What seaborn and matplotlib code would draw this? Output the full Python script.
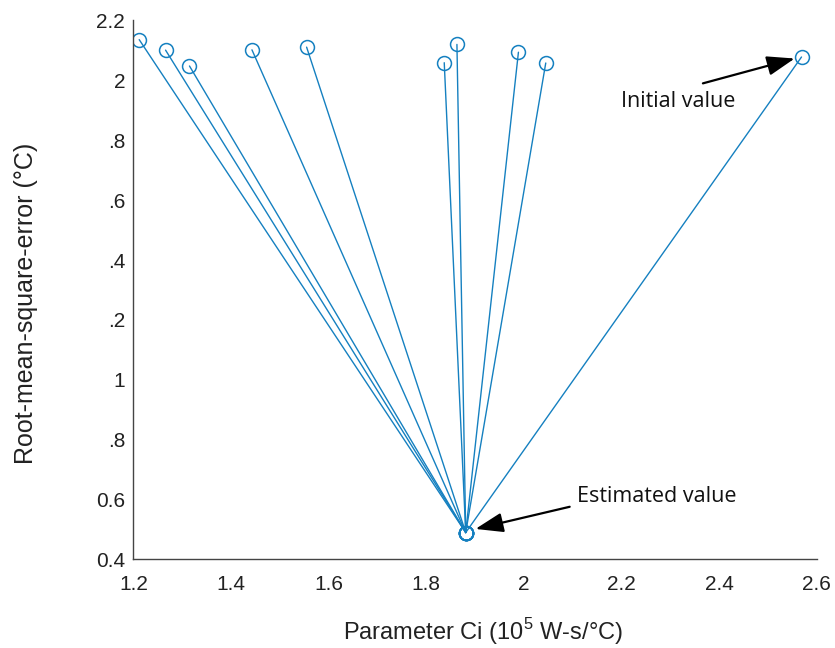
import matplotlib
matplotlib.use("Agg")
import matplotlib.pyplot as plt
import seaborn as sns
import pandas as pd

# Data
init_ci = [1.212, 1.266, 1.315, 1.443, 1.555, 1.837, 1.863, 1.989, 2.045, 2.569]
init_rmse = [2.136, 2.101, 2.048, 2.102, 2.111, 2.059, 2.120, 2.094, 2.058, 2.078]
est_ci = 1.881
est_rmse = 0.49

x_ticks = [1.2, 1.4, 1.6, 1.8, 2.0, 2.2, 2.4, 2.6]
x_ticklabels = ["1.2", "1.4", "1.6", "1.8", "2", "2.2", "2.4", "2.6"]
y_ticks = [0.4, 0.6, 0.8, 1.0, 1.2, 1.4, 1.6, 1.8, 2.0, 2.2]
y_ticklabels = ["0.4", "0.6", ".8", "1", ".2", ".4", ".6", ".8", "2", "2.2"]

rows = []
for i, (c, r) in enumerate(zip(init_ci, init_rmse)):
    rows.append({"run": i, "step": 0, "Ci": c, "RMSE": r})
    rows.append({"run": i, "step": 1, "Ci": est_ci, "RMSE": est_rmse})
df = pd.DataFrame(rows)

sns.set_style("white")
plt.rcParams["font.family"] = ["Liberation Sans", "DejaVu Sans"]
plt.rcParams["mathtext.fontset"] = "custom"
plt.rcParams["mathtext.rm"] = "Liberation Sans"

color = "#1580C0"
fig = plt.figure(figsize=(8.35, 6.48), dpi=100)
ax = fig.add_axes([0.1597, 0.1366, 0.978 - 0.1597, 0.9684 - 0.1366])

sns.lineplot(data=df, x="Ci", y="RMSE", units="run", estimator=None, sort=False,
             color=color, lw=1.0, marker="o", markersize=10,
             markerfacecolor="none", markeredgecolor=color, markeredgewidth=1.1,
             ax=ax, legend=False)

ax.set_xlim(1.2, 2.6)
ax.set_ylim(0.4, 2.2)
ax.set_xticks(x_ticks)
ax.set_xticklabels(x_ticklabels)
ax.set_yticks(y_ticks)
ax.set_yticklabels(y_ticklabels)
ax.tick_params(direction="in", length=5, width=1, color="#444444",
               labelsize=15, labelcolor="#222222")
ax.tick_params(axis="x", pad=11)
ax.tick_params(axis="y", pad=6)
for s in ["top", "right"]:
    ax.spines[s].set_visible(False)
for s in ["left", "bottom"]:
    ax.spines[s].set_color("#444444")
    ax.spines[s].set_linewidth(1.0)

ax.set_xlabel("Parameter Ci (10$^{5}$ W-s/°C)", fontsize=17, color="#222222")
ax.set_ylabel("Root-mean-square-error (°C)", fontsize=18, color="#222222")
ax.xaxis.set_label_coords(0.512, -0.105)
ax.yaxis.set_label_coords(-0.139, 0.476)

ann_font = ["Open Sans", "DejaVu Sans"]
arrow = dict(arrowstyle="-|>,head_length=1.7,head_width=0.6",
             color="black", lw=1.6, shrinkA=0, shrinkB=0)
ax.annotate("", xy=(init_ci[-1] - 0.014, init_rmse[-1] - 0.005),
            xytext=(2.367, 1.99), arrowprops=arrow)
ax.text(2.316, 1.93, "Initial value", fontsize=15.5, family=ann_font,
        ha="center", va="center", color="#111111")
ax.annotate("", xy=(est_ci + 0.02, est_rmse + 0.012),
            xytext=(2.094, 0.576), arrowprops=arrow)
ax.text(2.273, 0.609, "Estimated value", fontsize=15.5, family=ann_font,
        ha="center", va="center", color="#111111")

fig.savefig("out.png", dpi=100)
